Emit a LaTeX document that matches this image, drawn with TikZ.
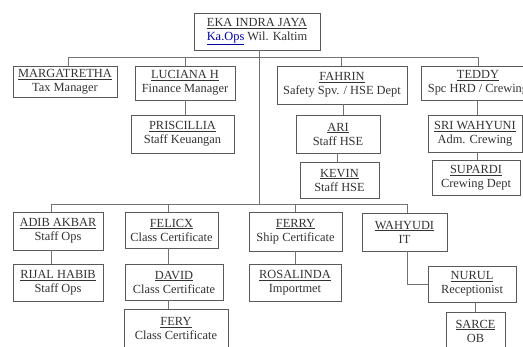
\documentclass[tikz,border=0pt]{standalone}
\usepackage{fontspec}
\setmainfont{Liberation Serif}
\begin{document}
\begin{tikzpicture}[x=1pt,y=-1pt,
  box/.style={draw=black!65, line width=0.9pt, fill=white, align=center, inner sep=0pt,
    font=\fontsize{12.4}{14}\selectfont, text=black!80},
  conn/.style={draw=black!55, line width=0.9pt}]
\useasboundingbox (0,0) rectangle (523,346);
\fill[white] (0,0) rectangle (523,346);
\newcommand{\nm}[1]{\underline{#1}}
% top
\node[box, minimum width=126, minimum height=37] (eka) at (257,31.5) {\nm{EKA INDRA JAYA}\\\textcolor{blue!60!black}{\underline{Ka.Ops}} Wil. Kaltim};
% row 1
\node[box, minimum width=104, minimum height=31] (marg) at (65,81.5) {\nm{MARGATRETHA}\\Tax Manager};
\node[box, minimum width=100, minimum height=34] (luc) at (185,83) {\nm{LUCIANA H}\\Finance Manager};
\node[box, minimum width=130, minimum height=38] (fah) at (342,85) {\nm{FAHRIN}\\Safety Spv. / HSE Dept};
\node[box, minimum width=114, minimum height=34] (ted) at (478,83) {\nm{TEDDY}\\Spc HRD / Crewing};
% row 2
\node[box, minimum width=103, minimum height=38] (pri) at (182.5,134) {\nm{PRISCILLIA}\\Staff Keuangan};
\node[box, minimum width=84, minimum height=38] (ari) at (338,134) {\nm{ARI}\\Staff HSE};
\node[box, minimum width=79, minimum height=36] (kev) at (339.5,180) {\nm{KEVIN}\\Staff HSE};
\node[box, minimum width=94, minimum height=37] (sri) at (475,133.5) {\nm{SRI WAHYUNI}\\Adm. Crewing};
\node[box, minimum width=88, minimum height=35] (sup) at (476,177.5) {\nm{SUPARDI}\\Crewing Dept};
% row 3
\node[box, minimum width=90, minimum height=38] (adib) at (58,231) {\nm{ADIB AKBAR}\\Staff Ops};
\node[box, minimum width=90, minimum height=37] (rij) at (58,282.5) {\nm{RIJAL HABIB}\\Staff Ops};
\node[box, minimum width=93, minimum height=36] (fel) at (171.5,230) {\nm{FELICX}\\Class Certificate};
\node[box, minimum width=98, minimum height=36] (dav) at (174,282) {\nm{DAVID}\\Class Certificate};
\node[box, minimum width=104, minimum height=39] (fery) at (176,328.5) {\nm{FERY}\\Class Certificate};
\node[box, minimum width=93, minimum height=39] (ferry) at (295.5,231.5) {\nm{FERRY}\\Ship Certificate};
\node[box, minimum width=92, minimum height=37] (ros) at (295,282.5) {\nm{ROSALINDA}\\Importmet};
\node[box, minimum width=85, minimum height=38] (wah) at (404.5,232) {\nm{WAHYUDI}\\IT};
\node[box, minimum width=88, minimum height=36] (nur) at (472,284) {\nm{NURUL}\\Receptionist};
\node[box, minimum width=59, minimum height=38] (sar) at (475.5,331) {\nm{SARCE}\\OB};
% connectors
\coordinate (t1) at (68,57);
\coordinate (t2) at (185,57);
\coordinate (t3) at (341,57);
\coordinate (t4) at (478,57);
\coordinate (hub) at (259,57);
\coordinate (b1) at (51,204);
\coordinate (b2) at (168,204);
\coordinate (b3) at (295,204);
\coordinate (b4) at (407,204);
\coordinate (hub2) at (259,204);
\draw[conn] (t1) -- (t4);
\draw[conn] (t1) -- (t1 |- marg.north);
\draw[conn] (t2) -- (t2 |- luc.north);
\draw[conn] (t3) -- (t3 |- fah.north);
\draw[conn] (t4) -- (t4 |- ted.north);
\draw[conn] (eka.south -| hub) -- (hub2);
\draw[conn] (b1) -- (b4);
\draw[conn] (b1) -- (b1 |- adib.north);
\draw[conn] (b2) -- (b2 |- fel.north);
\draw[conn] (b3) -- (b3 |- ferry.north);
\draw[conn] (b4) -- (b4 |- wah.north);
\draw[conn] (luc.south) -- (luc.south |- pri.north);
\draw[conn] ([xshift=1pt]fah.south) -- ([xshift=1pt]fah.south |- ari.north);
\draw[conn] ([xshift=-1pt]ari.south) -- ([xshift=-1pt]ari.south |- kev.north);
\draw[conn] ([xshift=-1pt]ted.south) -- ([xshift=-1pt]ted.south |- sri.north);
\draw[conn] ([xshift=2pt]sri.south) -- ([xshift=2pt]sri.south |- sup.north);
\draw[conn] (b1 |- adib.south) -- (b1 |- rij.north);
\draw[conn] (b2 |- fel.south) -- (b2 |- dav.north);
\draw[conn] (b2 |- dav.south) -- (b2 |- fery.north);
\draw[conn] (b3 |- ferry.south) -- (b3 |- ros.north);
\draw[conn] (b4 |- wah.south) |- (nur.west);
\draw[conn] (nur.south -| sar.north) -- (sar.north);
\end{tikzpicture}
\end{document}
